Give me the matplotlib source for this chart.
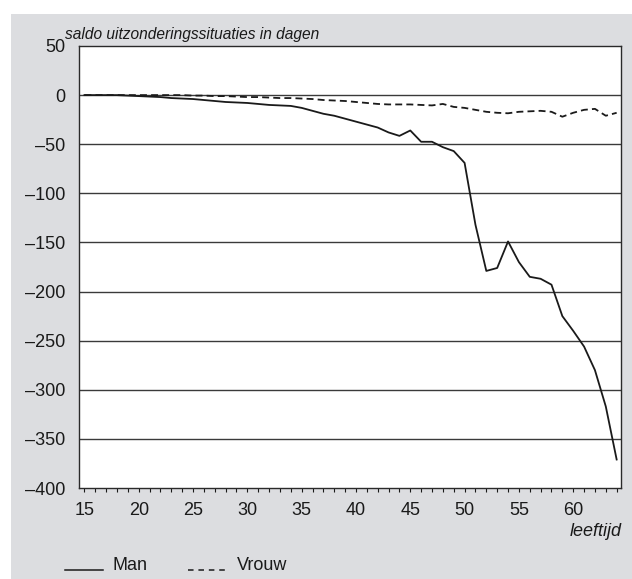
import matplotlib
matplotlib.use("Agg")
import matplotlib.pyplot as plt
from matplotlib.patches import Rectangle
from matplotlib.lines import Line2D

plt.rcParams['font.family'] = ['Liberation Sans', 'DejaVu Sans']
plt.rcParams['lines.scale_dashes'] = False

# leeftijd 15..64
ages = list(range(15, 65))
man = [0, 0, 0, 0, -0.5, -1, -1.5, -2, -3, -3.5,
       -4, -5, -6, -7, -7.5, -8, -9, -10, -10.5, -11,
       -13, -16, -19, -21, -24, -27, -30, -33, -38, -41.5,
       -36, -47.5, -47.5, -53, -57, -69, -132, -179, -176, -149,
       -170, -185, -187, -193, -225, -240, -256, -280, -317, -371]
vrouw = [0, 0, 0, 0, 0, 0, 0, 0, 0, 0,
         -0.5, -0.5, -1, -1, -1.5, -2, -2, -2.5, -3, -3,
         -3.5, -4, -5, -5.5, -6, -7, -8, -9, -9.5, -9.5,
         -9.5, -10, -10.5, -9, -12, -13, -15, -17, -18, -18.5,
         -17, -16.5, -16, -17, -22, -18, -15, -14, -21, -18]
yticks = [50, 0, -50, -100, -150, -200, -250, -300, -350, -400]

W, H = 632, 579
fig = plt.figure(figsize=(W / 100, H / 100), dpi=100)
fig.patch.set_facecolor('white')
fig.patches.append(Rectangle((11 / W, 0), 1 - 11 / W, 1 - 14 / H,
                             transform=fig.transFigure, facecolor='#dcdde0',
                             edgecolor='none', zorder=-10))

ax = fig.add_axes([79 / W, 1 - 488 / H, (621 - 79) / W, (488 - 46) / H])
ax.set_zorder(5)
ax.set_facecolor('white')
ax.set_xlim(14.5, 64.4)
ax.set_ylim(-400, 50)

for y in yticks[1:-1]:
    ax.axhline(y, color='#3a3a3a', lw=1.0, zorder=1)

ax.plot(ages, man, color='#1a1a1a', lw=1.3, zorder=3)
ax.plot(ages, vrouw, color='#1a1a1a', lw=1.3, dashes=(5, 3), zorder=3)

for s in ax.spines.values():
    s.set_color('#2a2a2a')
    s.set_linewidth(1.0)

ax.set_yticks(yticks)
ax.set_yticklabels([str(v).replace('-', '\u2013') for v in yticks])
ax.tick_params(axis='y', length=0, pad=10, labelsize=13, colors='#1a1a1a')
ax.set_xticks(range(15, 61, 5))
ax.set_xticks(range(15, 65), minor=True)
ax.tick_params(axis='x', which='both', direction='out', length=3, width=0.8,
               pad=7, labelsize=13, colors='#1a1a1a')

fig.text(65 / W, 1 - 35 / H, 'saldo uitzonderingssituaties in dagen',
         fontsize=11.2, style='italic', ha='left', va='center', color='#1a1a1a')
fig.text(622 / W, 1 - 531 / H, 'leeftijd', fontsize=13, style='italic',
         ha='right', va='center', color='#1a1a1a')

# legend
fig.lines.append(Line2D([65 / W, 103 / W], [1 - 570 / H, 1 - 570 / H],
                        transform=fig.transFigure, color='#1a1a1a', lw=1.1))
fig.text(113 / W, 1 - 566 / H, 'Man', fontsize=13, ha='left', va='center',
         color='#1a1a1a')
fig.lines.append(Line2D([188 / W, 227 / W], [1 - 570 / H, 1 - 570 / H],
                        transform=fig.transFigure, color='#1a1a1a', lw=1.1,
                        dashes=(4, 3.5)))
fig.text(237 / W, 1 - 566 / H, 'Vrouw', fontsize=13, ha='left', va='center',
         color='#1a1a1a')

fig.savefig('out.png', dpi=100)
